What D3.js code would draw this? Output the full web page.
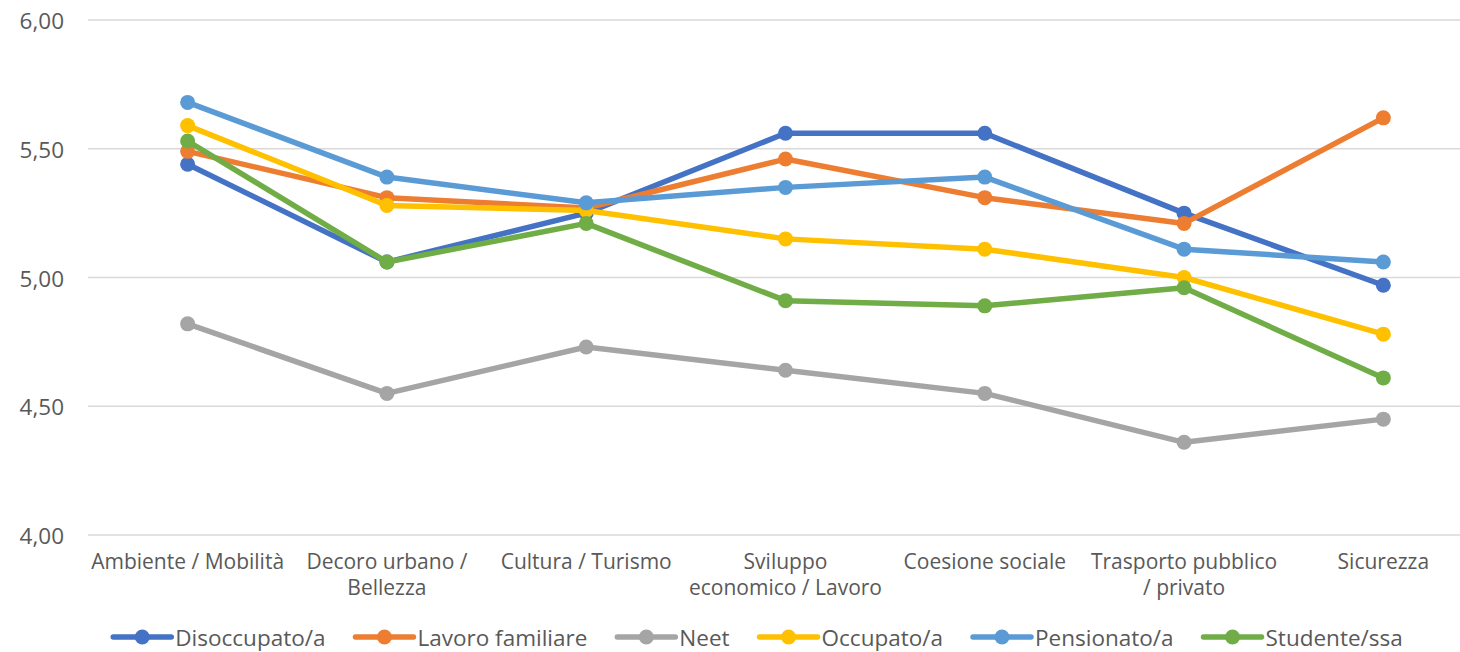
<!DOCTYPE html>
<html>
<head>
<meta charset="utf-8">
<script src="https://cdn.jsdelivr.net/npm/d3@7"></script>
<style>
  body { margin: 0; background: #fff; }
  text { font-family: "Open Sans", Lato, sans-serif; fill: #595959; }
</style>
</head>
<body>
<svg id="chart" width="1460" height="652"></svg>
<script>
var categories = ["Ambiente / Mobilità", "Decoro urbano /\nBellezza", "Cultura / Turismo",
  "Sviluppo\neconomico / Lavoro", "Coesione sociale", "Trasporto pubblico\n/ privato", "Sicurezza"];
var seriesNames = ["Disoccupato/a", "Lavoro familiare", "Neet", "Occupato/a", "Pensionato/a", "Studente/ssa"];
var seriesColors = ["#4472C4", "#ED7D31", "#A5A5A5", "#FFC000", "#5B9BD5", "#70AD47"];
var disoccupato = [5.44, 5.06, 5.25, 5.56, 5.56, 5.25, 4.97];
var lavoroFamiliare = [5.49, 5.31, 5.27, 5.46, 5.31, 5.21, 5.62];
var neet = [4.82, 4.55, 4.73, 4.64, 4.55, 4.36, 4.45];
var occupato = [5.59, 5.28, 5.26, 5.15, 5.11, 5.00, 4.78];
var pensionato = [5.68, 5.39, 5.29, 5.35, 5.39, 5.11, 5.06];
var studente = [5.53, 5.06, 5.21, 4.91, 4.89, 4.96, 4.61];
var yTicks = [4, 4.5, 5, 5.5, 6];

var series = [disoccupato, lavoroFamiliare, neet, occupato, pensionato, studente].map(function(v, i) {
  return {name: seriesNames[i], color: seriesColors[i], values: v};
});

var svg = d3.select("#chart");
var fmt = function(d) { return d3.format(".2f")(d).replace(".", ","); };

var x = d3.scalePoint().domain(categories).range([88, 1483]).padding(0.5);
var y = d3.scaleLinear().domain([4, 6]).range([535, 20]);

// gridlines
svg.append("g")
  .selectAll("line")
  .data(yTicks)
  .enter().append("line")
    .attr("x1", 88).attr("x2", 1483)
    .attr("y1", function(d) { return y(d); })
    .attr("y2", function(d) { return y(d); })
    .attr("stroke", "#d9d9d9")
    .attr("stroke-width", 1.5);

// y axis labels
var yAxis = d3.axisLeft(y).tickValues(yTicks).tickFormat(fmt).tickSize(0).tickPadding(0);
svg.append("g")
    .attr("transform", "translate(64,0)")
    .call(yAxis)
    .call(function(g) { g.select(".domain").remove(); })
    .selectAll("text")
      .attr("font-size", 22.5)
      .attr("dy", "0.38em")
      .attr("font-family", "'Open Sans', sans-serif")
      .attr("fill", "#595959");

// category labels
var catG = svg.append("g").selectAll("text")
  .data(categories)
  .enter().append("text")
    .attr("text-anchor", "middle")
    .attr("font-size", 21)
    .attr("y", 569);
catG.selectAll("tspan")
  .data(function(d) { return d.split("\n").map(function(t) { return {t: t, c: d}; }); })
  .enter().append("tspan")
    .attr("x", function(d) { return x(d.c); })
    .attr("dy", function(d, i) { return i ? 26 : 0; })
    .text(function(d) { return d.t; });

// lines
var line = d3.line()
  .x(function(d, i) { return x(categories[i]); })
  .y(function(d) { return y(d); });

var sg = svg.append("g").selectAll("g")
  .data(series)
  .enter().append("g");

sg.append("path")
    .attr("d", function(d) { return line(d.values); })
    .attr("fill", "none")
    .attr("stroke", function(d) { return d.color; })
    .attr("stroke-width", 5.5)
    .attr("stroke-linejoin", "round");

sg.selectAll("circle")
  .data(function(d) { return d.values.map(function(v, i) { return {v: v, i: i, color: d.color}; }); })
  .enter().append("circle")
    .attr("cx", function(d) { return x(categories[d.i]); })
    .attr("cy", function(d) { return y(d.v); })
    .attr("r", 7.5)
    .attr("fill", function(d) { return d.color; });

// legend
var legend = svg.append("g");
var items = legend.selectAll("g")
  .data(series)
  .enter().append("g");
items.append("line")
    .attr("x1", 0).attr("x2", 58)
    .attr("y1", 0).attr("y2", 0)
    .attr("stroke", function(d) { return d.color; })
    .attr("stroke-width", 5.5)
    .attr("stroke-linecap", "round");
items.append("circle")
    .attr("cx", 29).attr("cy", 0).attr("r", 7.5)
    .attr("fill", function(d) { return d.color; });
items.append("text")
    .attr("x", 62)
    .attr("y", 8.5)
    .attr("font-size", 22.5)
    .text(function(d) { return d.name; });

var offset = 0, widths = [];
items.each(function() {
  widths.push(this.getBBox().width);
});
var gap = 30;
var total = d3.sum(widths) + gap * (widths.length - 1);
offset = 758 - total / 2;
items.attr("transform", function(d, i) {
  var tx = offset;
  offset += widths[i] + gap;
  return "translate(" + tx + ",637)";
});
</script>
</body>
</html>
